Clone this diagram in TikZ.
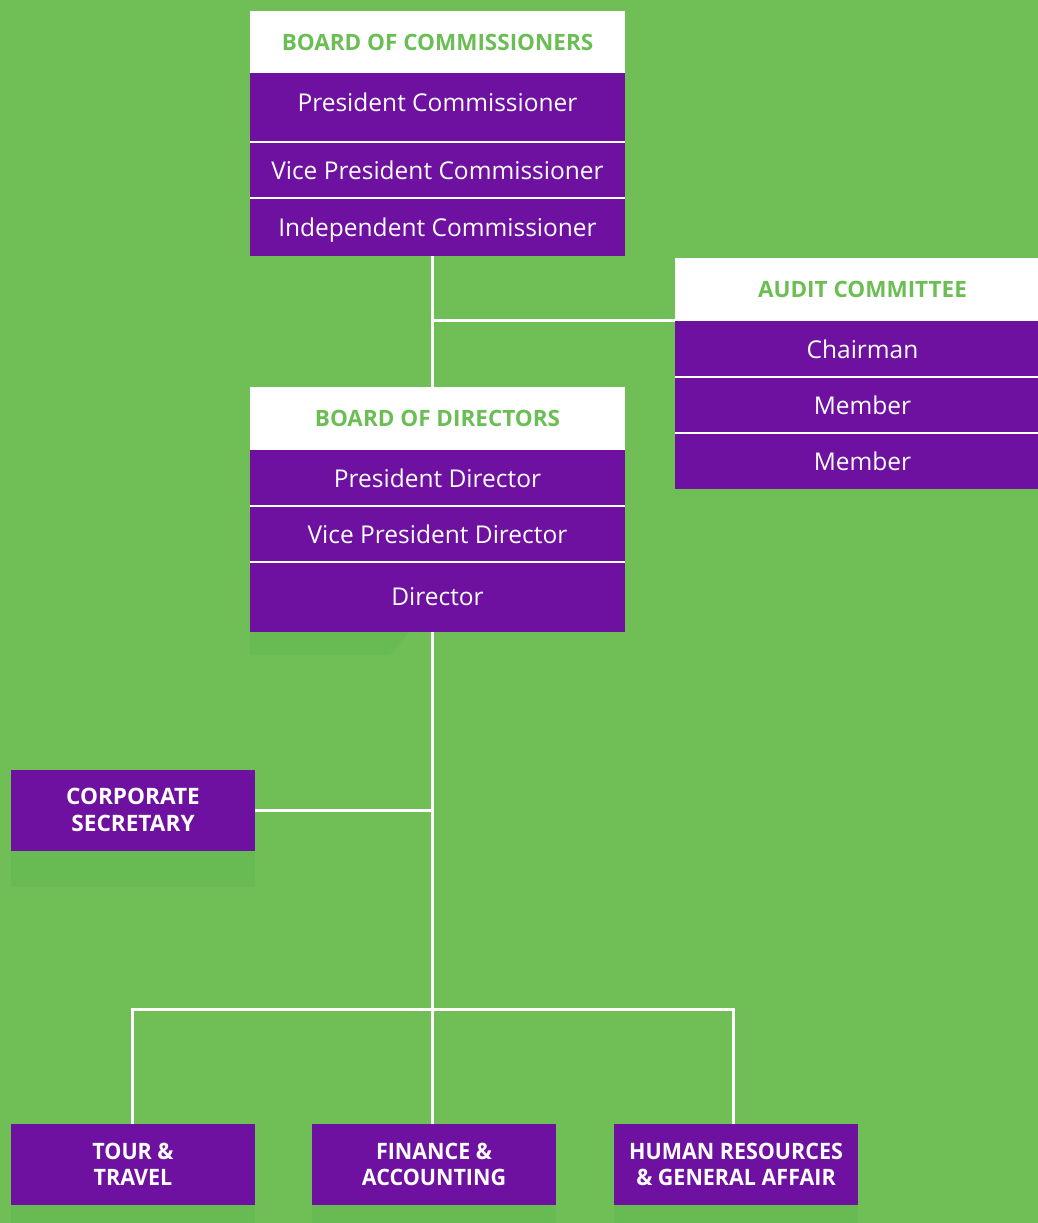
\documentclass[tikz,border=0pt]{standalone}
\usepackage{fontspec}
\setmainfont{Open Sans}
\newfontfamily\condfont[FakeStretch=0.95]{Open Sans}
\usepackage{tikz}

\definecolor{bggreen}{RGB}{112,191,86}
\definecolor{txtgreen}{RGB}{107,190,84}
\definecolor{boxpurple}{RGB}{110,16,160}
\definecolor{shadegreen}{RGB}{104,187,83}

\tikzset{
  hdr/.style={fill=white,text=txtgreen,font=\fontsize{22.5}{27}\selectfont\bfseries,inner sep=0pt,minimum width=#1},
  row/.style={fill=boxpurple,text=white,font=\fontsize{24.5}{29}\selectfont,inner sep=0pt,minimum width=#1},
  unit/.style={fill=boxpurple,text=white,font=\condfont\fontsize{22.6}{26}\selectfont\bfseries,align=center,inner sep=0pt,minimum width=244pt,minimum height=81pt},
  link/.style={draw=white,line width=3pt},
  sep/.style={draw=white,line width=2pt},
  shade/.style={fill=shadegreen}
}

\begin{document}
\begin{tikzpicture}[x=1pt,y=-1pt]
\fill[bggreen] (0,0) rectangle (1038,1223);
\useasboundingbox (0,0) rectangle (1038,1223);

\fill[shade] (250,631) -- (410,631) -- (390,655) -- (250,655) -- cycle;
\fill[shade] (11,850) rectangle (255,887);
\fill[shade] (11,1205) rectangle (255,1223);
\fill[shade] (312,1205) rectangle (556,1223);
\fill[shade] (614,1205) rectangle (858,1223);

\node[hdr=375pt,minimum height=62pt,text depth=0pt] (boc) at (437.5,42) {BOARD OF COMMISSIONERS};
\node[row=375pt,minimum height=69pt,text depth=10pt] (pc) at (437.5,107.5) {President Commissioner};
\node[row=375pt,minimum height=56pt] (vpc) at (437.5,170) {Vice President Commissioner};
\node[row=375pt,minimum height=57pt,text depth=0pt] (ic) at (437.5,227.5) {Independent Commissioner};
\draw[sep] (pc.south west) -- (pc.south east);
\draw[sep] (vpc.south west) -- (vpc.south east);

\node[hdr=375pt,minimum height=63pt,text depth=0pt] (ac) at (862.5,289.5) {AUDIT COMMITTEE};
\node[row=375pt,minimum height=56pt] (ch) at (862.5,349) {Chairman};
\node[row=375pt,minimum height=56pt] (m1) at (862.5,405) {Member};
\node[row=375pt,minimum height=56pt] (m2) at (862.5,461) {Member};
\draw[sep] (ch.south west) -- (ch.south east);
\draw[sep] (m1.south west) -- (m1.south east);

\node[hdr=375pt,minimum height=63pt,text depth=0pt] (bod) at (437.5,418.5) {BOARD OF DIRECTORS};
\node[row=375pt,minimum height=56pt] (pd) at (437.5,478) {President Director};
\node[row=375pt,minimum height=56pt] (vpd) at (437.5,534) {Vice President Director};
\node[row=375pt,minimum height=69pt] (dir) at (437.5,597) {Director};
\draw[sep] (pd.south west) -- (pd.south east);
\draw[sep] (vpd.south west) -- (vpd.south east);

\node[unit,font=\fontsize{22.6}{27}\selectfont\bfseries] (cs) at (133,810) {CORPORATE\\SECRETARY};
\node[unit] (tt) at (133,1164.5) {TOUR \&\\TRAVEL};
\node[unit] (fa) at (434,1164.5) {FINANCE \&\\ACCOUNTING};
\node[unit] (hr) at (736,1164.5) {HUMAN RESOURCES\\\& GENERAL AFFAIR};

\coordinate (trunk) at (432,0);
\coordinate (bus) at (432,1009);

\draw[link] (ic.south -| trunk) -- (bod.north -| trunk);
\draw[link] (trunk |- ch.north west) -- (ch.north west);
\draw[link] (dir.south -| trunk) -- (fa.north -| trunk);
\draw[link] (cs.east) -- (cs.east -| trunk);
\draw[link] (tt.north -| 132,0) |- (bus) -| (hr.north -| 733,0);
\end{tikzpicture}
\end{document}
